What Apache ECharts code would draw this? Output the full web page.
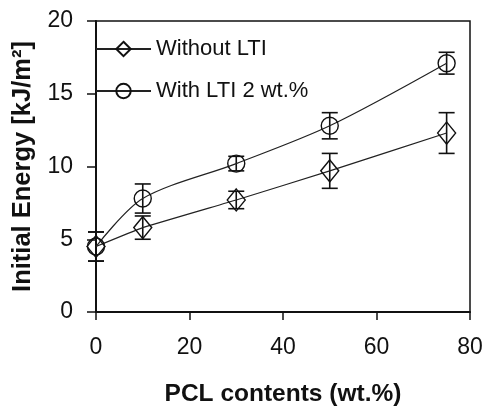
<!DOCTYPE html>
<html>
<head>
<meta charset="utf-8">
<script src="https://cdn.jsdelivr.net/npm/echarts@6/dist/echarts.min.js"></script>
<style>
  html, body { margin: 0; padding: 0; background: #ffffff; }
  #chart { width: 483px; height: 408px; }
</style>
</head>
<body>
<div id="chart"></div>
<script>
// PCL content (wt.%) on the x axis
const pclContent = [0, 10, 30, 50, 75];

// Initial energy (kJ/m²) and standard deviations
const withoutLTI = [4.5, 5.8, 7.7, 9.7, 12.3];
const withoutLTIErr = [1.0, 0.8, 0.6, 1.2, 1.4];
const withLTI = [4.5, 7.8, 10.2, 12.8, 17.1];
const withLTIErr = [1.0, 1.0, 0.5, 0.9, 0.75];

const seriesNames = ['Without LTI', 'With LTI 2 wt.%'];
const xTicks = [0, 20, 40, 60, 80];
const yTicks = [0, 5, 10, 15, 20];

const FONT = '"Liberation Sans", Arial, sans-serif';
const INK = '#111111';

function points(values) {
  return pclContent.map((x, i) => [x, values[i]]);
}
function errorRanges(values, errs) {
  return pclContent.map((x, i) => [x, values[i] - errs[i], values[i] + errs[i]]);
}

function renderErrorBar(params, api) {
  const x = api.value(0);
  const top = api.coord([x, api.value(2)]);
  const bottom = api.coord([x, api.value(1)]);
  const half = 8;
  const style = { stroke: INK, lineWidth: 1.6 };
  return {
    type: 'group',
    children: [
      { type: 'line', shape: { x1: top[0], y1: top[1], x2: bottom[0], y2: bottom[1] }, style },
      { type: 'line', shape: { x1: top[0] - half, y1: top[1], x2: top[0] + half, y2: top[1] }, style },
      { type: 'line', shape: { x1: bottom[0] - half, y1: bottom[1], x2: bottom[0] + half, y2: bottom[1] }, style }
    ]
  };
}

const chart = echarts.init(document.getElementById('chart'), null, { renderer: 'canvas' });

chart.setOption({
  backgroundColor: '#ffffff',
  animation: false,
  grid: {
    left: 96, right: 13, top: 21, bottom: 96,
    outerBoundsMode: 'none',
    containLabel: false,
    show: true, borderColor: INK, borderWidth: 1.5, backgroundColor: 'transparent'
  },
  legend: {
    data: seriesNames,
    orient: 'vertical',
    left: 90, top: 33,
    itemWidth: 55, itemHeight: 18, itemGap: 20,
    textStyle: { fontFamily: FONT, fontSize: 22, color: INK, lineHeight: 22 }
  },
  xAxis: {
    type: 'value',
    min: xTicks[0], max: xTicks[xTicks.length - 1], interval: 20,
    name: 'PCL contents (wt.%)',
    nameLocation: 'middle', nameGap: 70,
    nameTextStyle: { fontFamily: FONT, fontSize: 24.5, fontWeight: 'bold', color: INK },
    axisLine: { lineStyle: { color: INK, width: 2 } },
    axisTick: { show: true, length: 8, inside: false, lineStyle: { color: INK, width: 1.5 } },
    axisLabel: { margin: 24, fontFamily: FONT, fontSize: 23, color: INK },
    splitLine: { show: false }
  },
  yAxis: {
    type: 'value',
    min: yTicks[0], max: yTicks[yTicks.length - 1], interval: 5,
    name: 'Initial Energy [kJ/m²]',
    nameLocation: 'middle', nameGap: 60, nameRotate: 90,
    nameTextStyle: { fontFamily: FONT, fontSize: 25.5, fontWeight: 'bold', color: INK },
    axisLine: { show: true, lineStyle: { color: INK, width: 2 } },
    axisTick: { show: true, length: 9, inside: false, lineStyle: { color: INK, width: 1.5 } },
    axisLabel: { margin: 23, fontFamily: FONT, fontSize: 23, color: INK },
    splitLine: { show: false }
  },
  series: [
    {
      type: 'custom',
      renderItem: renderErrorBar,
      data: errorRanges(withoutLTI, withoutLTIErr),
      encode: { x: 0, y: [1, 2] },
      silent: true, z: 3
    },
    {
      type: 'custom',
      renderItem: renderErrorBar,
      data: errorRanges(withLTI, withLTIErr),
      encode: { x: 0, y: [1, 2] },
      silent: true, z: 3
    },
    {
      name: seriesNames[0],
      type: 'line',
      data: points(withoutLTI),
      smooth: 0.1,
      symbol: 'diamond',
      symbolSize: [18, 22],
      showAllSymbol: true,
      lineStyle: { color: '#222222', width: 1.2 },
      itemStyle: { color: 'rgba(255,255,255,0)', borderColor: INK, borderWidth: 1.4 },
      z: 4
    },
    {
      name: seriesNames[1],
      type: 'line',
      data: points(withLTI),
      smooth: 0.3,
      symbol: 'circle',
      symbolSize: 17,
      showAllSymbol: true,
      lineStyle: { color: '#222222', width: 1.2 },
      itemStyle: { color: 'rgba(255,255,255,0)', borderColor: INK, borderWidth: 1.4 },
      z: 4
    }
  ]
});
</script>
</body>
</html>
